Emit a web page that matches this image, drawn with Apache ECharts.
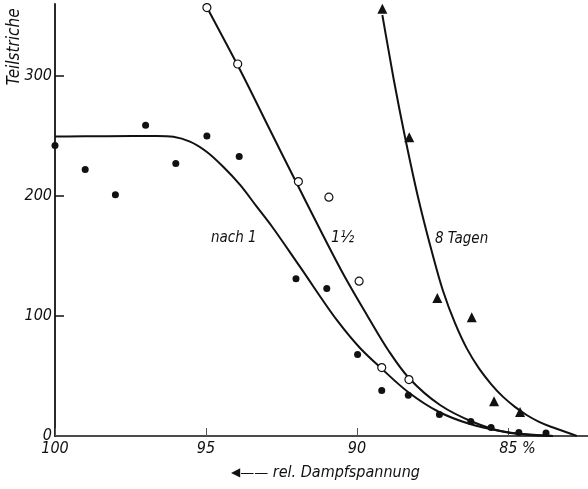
<!DOCTYPE html>
<html>
<head>
<meta charset="utf-8">
<script src="https://cdn.jsdelivr.net/npm/echarts@6/dist/echarts.min.js"></script>
<style>
html,body{margin:0;padding:0;background:#fff;}
#c{width:588px;height:489px;}
</style>
</head>
<body>
<div id="c"></div>
<script>
// relative vapour pressure (%) and readings (Teilstriche)
const dotsX = [100, 99.0, 98.0, 97.0, 96.0, 94.97, 93.9, 92.02, 91.0, 89.98, 89.18, 88.30, 87.27, 86.23, 85.56, 84.64, 83.74];
const dotsY = [242, 222, 201, 259, 227, 250, 233, 131, 123, 68, 38, 34, 18, 12, 7, 3, 2.5];
const ringsX = [94.97, 93.95, 91.94, 90.93, 89.93, 89.18, 88.28];
const ringsY = [357, 310, 212, 199, 129, 57, 47];
const trisX = [89.16, 88.27, 87.34, 86.20, 85.46, 84.60];
const trisY = [356, 249, 115, 99, 29, 20];

// fitted curves
const curve1X = [100, 97.19, 96.08, 95.53, 94.98, 94.43, 93.87, 93.32, 92.81, 91.89, 90.67, 89.90, 89.17, 88.31, 87.28, 86.26, 85.26, 84.27, 83.51];
const curve1Y = [249.5, 250, 249.4, 245.3, 236.9, 224.4, 209.2, 191.1, 174.4, 141.1, 96.7, 73.3, 55.8, 36.7, 20, 10, 4.2, 0.8, 0];
const curve15X = [94.97, 93.87, 92.88, 92.05, 91.13, 90.40, 89.67, 88.97, 88.28, 87.25, 86.16, 85.10, 83.51];
const curve15Y = [357.3, 305, 255, 213.3, 167.5, 132.5, 100.8, 71.7, 48.3, 25.8, 11.7, 3.3, 0];
const curve8X = [89.16, 88.78, 88.41, 87.98, 87.58, 87.15, 86.75, 86.36, 85.96, 85.56, 85.17, 84.77, 84.37, 83.97, 83.58, 83.18, 82.72];
const curve8Y = [350.8, 296.7, 249.2, 199.2, 159.2, 120.8, 93.8, 72.8, 56.3, 43.3, 32.8, 24.3, 17.3, 11.8, 7.7, 4.2, 0];

const xTicks = [100, 95, 90, 85];
const yTicks = [0, 100, 200, 300];
const curveLabels = ['nach 1', '1½', '8 Tagen'];

const FONT = '"DejaVu Sans Condensed", "DejaVu Sans", sans-serif';
const toAx = v => 100 - v;
const pts = (xs, ys) => xs.map((x, i) => [toAx(x), ys[i]]);

// centripetal Catmull-Rom through pixel points -> SVG path
function crPath(p) {
  const n = p.length;
  const get = i => {
    if (i < 0) return [2 * p[0][0] - p[1][0], 2 * p[0][1] - p[1][1]];
    if (i >= n) return [2 * p[n - 1][0] - p[n - 2][0], 2 * p[n - 1][1] - p[n - 2][1]];
    return p[i];
  };
  const dist = (a, b) => Math.pow(Math.hypot(b[0] - a[0], b[1] - a[1]), 0.5) || 1e-6;
  let d = 'M' + p[0][0] + ',' + p[0][1];
  for (let i = 0; i < n - 1; i++) {
    const P0 = get(i - 1), P1 = get(i), P2 = get(i + 1), P3 = get(i + 2);
    const d1 = dist(P0, P1), d2 = dist(P1, P2), d3 = dist(P2, P3);
    const b1 = [0, 1].map(k => (d1 * d1 * P2[k] - d2 * d2 * P0[k] + (2 * d1 * d1 + 3 * d1 * d2 + d2 * d2) * P1[k]) / (3 * d1 * (d1 + d2)));
    const b2 = [0, 1].map(k => (d3 * d3 * P1[k] - d2 * d2 * P3[k] + (2 * d3 * d3 + 3 * d3 * d2 + d2 * d2) * P2[k]) / (3 * d3 * (d3 + d2)));
    d += 'C' + b1[0] + ',' + b1[1] + ' ' + b2[0] + ',' + b2[1] + ' ' + P2[0] + ',' + P2[1];
  }
  return d;
}

const curveSeries = (xs, ys) => {
  const data = pts(xs, ys);
  return {
    type: 'custom', data: data, encode: {x: 0, y: 1}, z: 2, silent: true, clip: false,
    renderItem: (params, api) => {
      if (params.dataIndex !== 0) return null;
      const px = data.map(d => api.coord(d));
      return {type: 'path', shape: {pathData: crPath(px)},
              style: {fill: 'none', stroke: '#111', lineWidth: 2}};
    }
  };
};

const chart = echarts.init(document.getElementById('c'), null, {renderer: 'canvas'});

chart.setOption({
  animation: false,
  backgroundColor: '#fff',
  grid: {left: 55, right: 0, top: 4, bottom: 53, containLabel: false},
  xAxis: {
    type: 'value', min: 0, max: 17.65,
    name: '{a|◀}{b|——} rel. Dampfspannung',
    nameLocation: 'middle', nameGap: 29,
    nameTextStyle: {
      fontFamily: FONT, fontStyle: 'italic', fontSize: 16, color: '#111',
      padding: [0, 0, 0, 8],
      rich: {
        a: {fontSize: 12, fontStyle: 'normal', fontFamily: '"DejaVu Sans", sans-serif', color: '#111', verticalAlign: 'middle'},
        b: {fontSize: 14, fontStyle: 'normal', fontFamily: '"DejaVu Sans", sans-serif', color: '#111', verticalAlign: 'middle'}
      }
    },
    axisLine: {lineStyle: {color: '#111', width: 1.6}},
    axisTick: {show: true, inside: true, length: 8, customValues: xTicks.map(toAx), lineStyle: {color: '#555', width: 1}},
    axisLabel: {
      customValues: xTicks.map(toAx),
      margin: 5, fontFamily: FONT, fontStyle: 'italic', fontSize: 16, color: '#111',
      formatter: v => {
        const p = Math.round(100 - v);
        return p === 85 ? '{p|85 %}' : String(p);
      },
      rich: {p: {fontFamily: FONT, fontStyle: 'italic', fontSize: 16, color: '#111', padding: [0, 0, 0, 19]}}
    },
    splitLine: {show: false}
  },
  yAxis: {
    type: 'value', min: 0, max: 360,
    axisLine: {lineStyle: {color: '#111', width: 1.8}},
    axisTick: {show: true, inside: true, length: 9, customValues: yTicks.slice(1), lineStyle: {color: '#111', width: 1.5}},
    axisLabel: {customValues: yTicks, margin: 3, fontFamily: FONT, fontStyle: 'italic', fontSize: 16, color: '#111'},
    splitLine: {show: false}
  },
  graphic: [
    {type: 'text', x: 15, y: 47, rotation: Math.PI / 2,
     style: {text: 'Teilstriche', fontFamily: FONT, fontStyle: 'italic', fontSize: 17, fill: '#111', align: 'center', verticalAlign: 'middle'}},
    {type: 'text', x: 211, y: 238,
     style: {text: curveLabels[0], fontFamily: FONT, fontStyle: 'italic', fontSize: 15, fill: '#111', verticalAlign: 'middle'}},
    {type: 'text', x: 331, y: 238,
     style: {text: curveLabels[1], fontFamily: FONT, fontStyle: 'italic', fontSize: 16, fill: '#111', verticalAlign: 'middle'}},
    {type: 'text', x: 435, y: 239,
     style: {text: curveLabels[2], fontFamily: FONT, fontStyle: 'italic', fontSize: 15, fill: '#111', verticalAlign: 'middle'}}
  ],
  series: [
    curveSeries(curve1X, curve1Y),
    curveSeries(curve15X, curve15Y),
    curveSeries(curve8X, curve8Y),
    {type: 'scatter', data: pts(dotsX, dotsY), symbol: 'circle', symbolSize: 7,
     itemStyle: {color: '#111', opacity: 1}, z: 5, silent: true},
    {type: 'scatter', data: pts(ringsX, ringsY), symbol: 'circle', symbolSize: 8,
     itemStyle: {color: '#fff', borderColor: '#111', borderWidth: 1.2, opacity: 1}, z: 5, silent: true},
    {type: 'scatter', data: pts(trisX, trisY), symbol: 'triangle', symbolSize: 10,
     itemStyle: {color: '#111', opacity: 1}, z: 5, silent: true}
  ]
});
</script>
</body>
</html>
